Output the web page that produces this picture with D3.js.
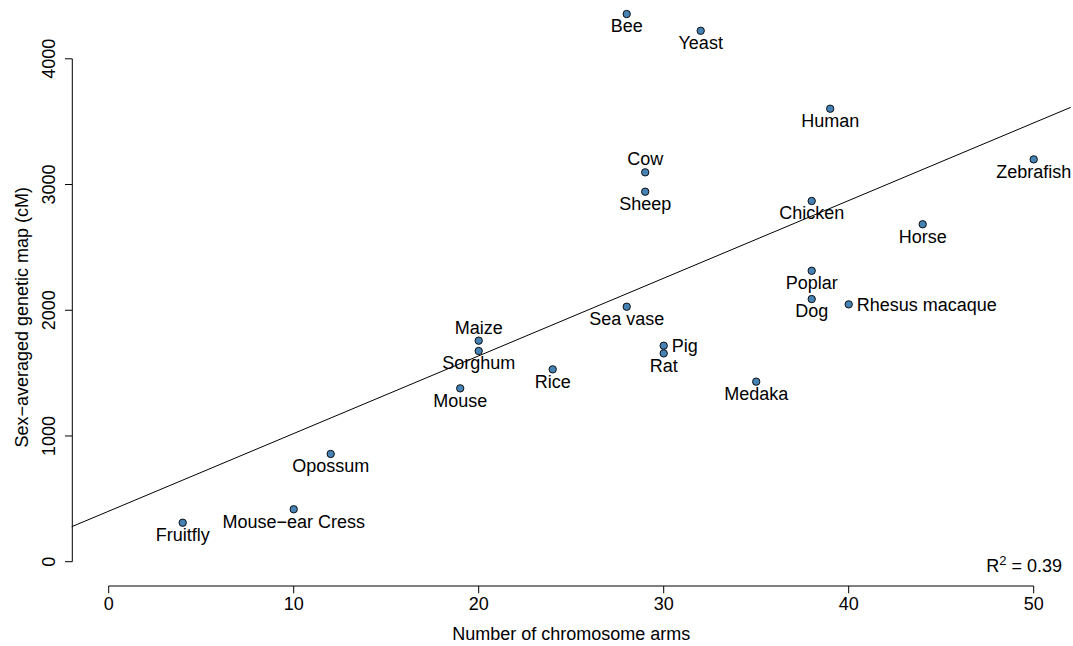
<!DOCTYPE html>
<html><head><meta charset="utf-8">
<script src="https://cdn.jsdelivr.net/npm/d3@7"></script>
<style>
html,body{margin:0;padding:0;background:#fff;}
text{font-family:"Liberation Sans",Arial,Helvetica,sans-serif;fill:#000;}
</style></head>
<body><svg id="c" width="1073" height="646"></svg>
<script>
const species = ["Bee","Yeast","Human","Zebrafish","Cow","Sheep","Chicken","Horse","Poplar","Dog","Rhesus macaque","Sea vase","Maize","Sorghum","Pig","Rat","Rice","Mouse","Medaka","Opossum","Mouse\u2212ear Cress","Fruitfly"];
const arms = [28,32,39,50,29,29,38,44,38,38,40,28,20,20,30,30,24,19,35,12,10,4];
const mapCM = [4356,4223,3603,3200,3097,2943,2869,2684,2314,2089,2047,2028,1758,1676,1718,1657,1530,1379,1432,857,417,310];
const labelPos = ["below","below","below","below","above","below","below","below","below","below","right","below","above","below","right","below","below","below","below","below","below","below"];
const xTicks = [0,10,20,30,40,50];
const yTicks = [0,1000,2000,3000,4000];
const xTitle = "Number of chromosome arms";
const yTitle = "Sex\u2212averaged genetic map (cM)";
const r2Label = "0.39";

const svg = d3.select("#c");
const x = d3.scaleLinear().domain([0,50]).range([108.7,1033.7]);
const y = d3.scaleLinear().domain([0,4000]).range([561.7,58.8]);
const plotLeft = x(-2), plotRight = x(52), plotBottom = 586;
const FS = 18;

// regression
const n = arms.length;
const mx = d3.mean(arms), my = d3.mean(mapCM);
let sxy=0,sxx=0;
for(let i=0;i<n;i++){sxy+=(arms[i]-mx)*(mapCM[i]-my);sxx+=(arms[i]-mx)**2;}
const slope = sxy/sxx, icpt = my - slope*mx;
svg.append("line")
  .attr("x1",x(-2)).attr("y1",y(icpt+slope*-2))
  .attr("x2",x(52)).attr("y2",y(icpt+slope*52))
  .attr("stroke","#000").attr("stroke-width",1);

// y axis
const gy = svg.append("g");
gy.append("line").attr("x1",72.3).attr("x2",72.3).attr("y1",y(0)).attr("y2",y(4000)).attr("stroke","#000");
yTicks.forEach(t=>{
  gy.append("line").attr("x1",72.3).attr("x2",65).attr("y1",y(t)).attr("y2",y(t)).attr("stroke","#000");
  gy.append("text").attr("transform",`translate(55,${y(t)}) rotate(-90)`)
    .attr("text-anchor","middle").attr("font-size",FS).text(t);
});
svg.append("text").attr("transform",`translate(28,${(y(0)+y(4000))/2+7}) rotate(-90)`)
  .attr("text-anchor","middle").attr("font-size",FS).text(yTitle);

// x axis
const gx = svg.append("g");
gx.append("line").attr("x1",x(0)).attr("x2",x(50)).attr("y1",plotBottom).attr("y2",plotBottom).attr("stroke","#000");
xTicks.forEach(t=>{
  gx.append("line").attr("x1",x(t)).attr("x2",x(t)).attr("y1",plotBottom).attr("y2",plotBottom+7.3).attr("stroke","#000");
  gx.append("text").attr("x",x(t)).attr("y",609.5).attr("text-anchor","middle").attr("font-size",FS).text(t);
});
svg.append("text").attr("x",(x(0)+x(50))/2).attr("y",639.5).attr("text-anchor","middle").attr("font-size",FS).text(xTitle);

// points
svg.append("g").selectAll("circle").data(d3.range(n)).join("circle")
  .attr("cx",i=>x(arms[i])).attr("cy",i=>y(mapCM[i])).attr("r",3.7)
  .attr("fill","#4682B4").attr("stroke","#000").attr("stroke-width",0.9);

// labels
svg.append("g").selectAll("text").data(d3.range(n)).join("text")
  .attr("font-size",FS)
  .attr("x",i=>labelPos[i]==="right"? x(arms[i])+8 : x(arms[i]))
  .attr("y",i=>{const py=y(mapCM[i]); return labelPos[i]==="below"? py+18.4 : labelPos[i]==="above"? py-7 : py+6.4;})
  .attr("text-anchor",i=>labelPos[i]==="right"?"start":"middle")
  .text(i=>species[i]);

// R^2
const rt = svg.append("text").attr("x",1062).attr("y",572).attr("text-anchor","end").attr("font-size",FS);
rt.append("tspan").text("R");
rt.append("tspan").attr("font-size",13).attr("dy",-7).text("2");
rt.append("tspan").attr("dy",7).text(" = "+r2Label);
</script></body></html>
